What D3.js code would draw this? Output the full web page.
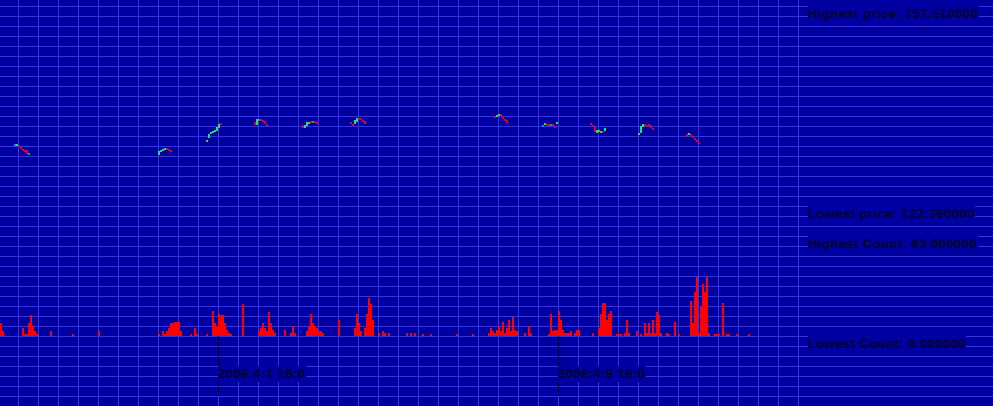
<!DOCTYPE html>
<html><head><meta charset="utf-8">
<script src="https://cdn.jsdelivr.net/npm/d3@7"></script>
<style>html,body{margin:0;padding:0;background:#0000a0;overflow:hidden}svg{display:block}</style>
</head><body><svg id="c" width="993" height="406"></svg>
<script>
// ---- data ----
const baseTime = Date.UTC(2008, 2, 27, 3, 0); // first hour slot on the chart
const tickHours = [109, 279];
const tickLabels = ["2008:4:1 16:0", "2008:4:8 18:0"];
const priceRange = [122.36, 157.51];
const countRange = [0, 63];
const statLabels = ["Highest price: 157.510000", "Lowest price: 122.360000", "Highest Count: 63.000000", "Lowest Count: 0.000000"];

const candleHours = [7,8,9,10,11,12,13,14, 79,80,81,82,83,84,85, 103,104,105,106,107,108,109,110,
  127,128,129,130,131,132,133, 151,152,153,154,155,156,157,158, 175,176,177,178,179,180,181,182,
  247,248,249,250,251,252,253, 271,272,273,274,275,276,277,278, 295,296,297,298,299,300,301,302,
  319,320,321,322,323,324,325,326, 343,344,345,346,347,348,349];
const candleOpen = [133.26,132.91,133.08,132.73,132.38,132.20,132.20,131.67, 131.32,131.85,132.20,132.38,132.55,132.38,132.20,
  133.78,134.31,135.01,135.37,135.54,135.54,136.07,136.95,
  137.12,136.60,137.65,137.65,137.47,137.30,136.77, 136.60,136.07,136.42,136.77,137.30,137.30,137.30,137.12,
  137.12,136.77,136.77,137.12,137.83,137.83,137.47,137.30,
  138.18,138.00,138.18,138.53,138.18,137.65,137.47, 136.60,136.60,136.77,136.77,136.77,136.77,136.42,136.77,
  136.95,136.60,136.24,135.19,135.37,135.19,135.54,135.54, 135.01,135.19,136.24,136.77,136.60,136.77,136.60,136.07,
  135.01,134.84,135.01,134.66,134.31,133.96,133.61];
const candleClose = [133.26,133.26,132.73,132.38,132.20,132.03,131.50,131.67, 132.03,132.20,132.38,132.55,132.47,132.20,132.03,
  133.96,135.01,135.37,135.54,135.72,136.24,136.77,136.77,
  136.60,137.65,137.65,137.30,137.12,136.77,136.42, 136.07,136.60,137.12,137.12,137.12,137.30,137.12,136.77,
  136.77,136.42,137.47,137.83,137.65,137.47,137.12,136.77,
  137.83,138.35,138.53,138.18,137.65,137.47,136.95, 136.60,136.95,136.60,136.60,136.77,136.42,136.24,137.12,
  136.60,136.24,135.37,135.72,135.72,135.54,135.37,136.07, 135.19,136.42,136.77,136.60,136.42,136.60,136.07,135.89,
  134.66,135.19,134.66,134.31,133.96,133.61,133.26];

const volumeHours = [0,1, 11,12,13,14,15,16,17,18, 25, 36, 49,
  79,81,82,83,84,85,86,87,88,89,90, 95,97,98,
  103,106,107,108,109,110,111,112,113,114,115, 121,
  129,130,131,132,133,134,135,136,137, 142,145,146,147,
  153,154,155,156,157,158,159,160,161, 169,
  177,178,179,180,182,183,184,185,186, 189,191,192,194,
  203,205,207,211,215, 228,236,
  244,245,246,247,248,249,250,251,252,253,254,255,256,257,258, 262,264,265,
  274,275,276,277,278,279,280,281,282,283,284,285,287,288,289, 296,299,300,301,302,303,304,305,
  308,309,310,312,313,314, 318,320,322,323,324,325,326,327,328,329,330, 333,334,337,339,
  345,346,347,348,349,350,351,352,353,354, 357,358,359,361,363,364,368,374];
const volumeCounts = [8,3, 5,1,1,8,13,6,3,1, 3, 1, 3,
  1,3,1,3,5,8,8,9,9,9,3, 1,5,1,
  1,16,8,6,14,13,13,8,4,2,1, 20,
  3,5,8,5,3,15,8,4,2, 4,2,6,2,
  3,6,14,8,6,5,3,3,2, 10,
  5,14,8,3,5,14,24,20,10, 2,3,2,2,
  2,2,2,1,1, 1,1,
  2,5,3,2,4,6,3,9,2,5,10,3,12,4,3, 2,6,2,
  1,14,3,4,4,16,10,4,2,2,2,3,2,4,4, 2,5,14,21,21,10,14,16,
  1,1,1,2,10,2, 3,1,8,2,8,2,10,2,15,13,2, 2,1,9,1,
  22,8,28,37,2,18,33,28,37,2, 1,1,1,21,1,1,1,1];

// ---- style ----
const BG = "#0000a0", GRID = "#3535e0", TXT = "#000028";
const UP = "#20e070", DOWN = "#e00030", FLAT = "#00a0a0";

const svg = d3.select("#c");
const W = 993, H = 406;
const hourDate = h => new Date(baseTime + h * 3600e3);

const x = d3.scaleUtc().domain([hourDate(tickHours[0]), hourDate(tickHours[1])]).range([218, 558]);
const yPrice = d3.scaleLinear().domain(priceRange).range([206, 6]);
const yCount = d3.scaleLinear().domain(countRange).range([336, 236]);

svg.append("rect").attr("width", W).attr("height", H).attr("fill", BG);

// grid
const g = svg.append("g").attr("stroke", GRID).attr("stroke-width", 1).attr("shape-rendering", "crispEdges");
g.selectAll("line.h").data(d3.range(6, H, 10)).join("line")
  .attr("x1", 0).attr("x2", W).attr("y1", d => d + 0.5).attr("y2", d => d + 0.5);
g.selectAll("line.v").data(d3.range(18, 800, 20)).join("line").attr("class", "v")
  .attr("y1", 0).attr("y2", H).attr("x1", d => d + 0.5).attr("x2", d => d + 0.5);

// volume bars
svg.append("g").attr("shape-rendering", "crispEdges").selectAll("rect")
  .data(volumeHours.map((h, i) => ({ t: hourDate(h), v: volumeCounts[i] })))
  .join("rect")
  .attr("x", d => Math.round(x(d.t))).attr("width", 2)
  .attr("y", d => Math.round(yCount(d.v))).attr("height", d => 336 - Math.round(yCount(d.v)))
  .attr("fill", "#ff0000");

// candles
svg.append("g").attr("shape-rendering", "crispEdges").selectAll("rect")
  .data(candleHours.map((h, i) => ({ t: hourDate(h), o: candleOpen[i], c: candleClose[i] })))
  .join("rect")
  .attr("x", d => Math.round(x(d.t))).attr("width", 2)
  .attr("y", d => Math.round(Math.min(yPrice(d.o), yPrice(d.c))))
  .attr("height", d => Math.max(2, Math.round(Math.abs(yPrice(d.o) - yPrice(d.c)))))
  .attr("fill", d => d.c > d.o ? UP : d.c < d.o ? DOWN : FLAT);

// time ticks
svg.append("g").attr("shape-rendering", "crispEdges").selectAll("line")
  .data(tickHours).join("line")
  .attr("x1", d => Math.round(x(hourDate(d))) + 0.5).attr("x2", d => Math.round(x(hourDate(d))) + 0.5)
  .attr("y1", 336).attr("y2", 396).attr("stroke", "#000018");

function label(txt, lx, top) {
  const grp = svg.append("g");
  const r = grp.append("rect").attr("fill", BG);
  const t = grp.append("text").attr("x", lx).attr("y", top + 12)
    .attr("font-family", "'Liberation Sans', Arial, sans-serif").attr("font-weight", "bold")
    .attr("font-size", 13).attr("letter-spacing", 0.45).attr("fill", TXT).text(txt);
  const w = t.node().getComputedTextLength();
  r.attr("x", lx).attr("y", top).attr("width", Math.ceil(w)).attr("height", 16);
}
label(statLabels[0], 808, Math.round(yPrice(priceRange[1])));
label(statLabels[1], 808, Math.round(yPrice(priceRange[0])));
label(statLabels[2], 808, Math.round(yCount(countRange[1])));
label(statLabels[3], 808, Math.round(yCount(countRange[0])));
tickHours.forEach((h, i) => label(tickLabels[i], Math.round(x(hourDate(h))), 366));
</script></body></html>
